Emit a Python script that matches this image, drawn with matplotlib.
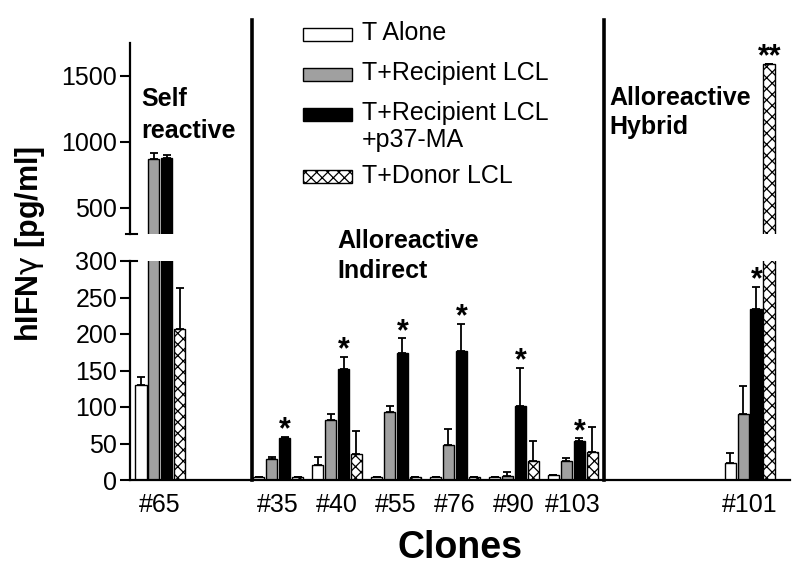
import matplotlib
matplotlib.use('Agg')
import numpy as np
import matplotlib.pyplot as plt
from matplotlib.patches import Rectangle
from matplotlib.lines import Line2D

plt.rcParams['font.family'] = ['Liberation Sans', 'DejaVu Sans']

# data
clones = ['#65', '#35', '#40', '#55', '#76', '#90', '#103', '#101']
slots = [0, 2, 3, 4, 5, 6, 7, 10]   # gaps between the groups

t_alone = [130, 4, 20, 4, 4, 4, 7, 23]
t_alone_err = [11, 0, 11, 0, 0, 0, 0, 14]
t_recip = [868, 29, 82, 93, 48, 5, 26, 90]
t_recip_err = [48, 3, 8, 9, 22, 6, 4, 39]
t_recip_p37 = [878, 58, 152, 174, 177, 102, 54, 234]
t_recip_p37_err = [20, 1, 17, 20, 37, 52, 3, 30]
t_donor = [207, 4, 35, 4, 4, 26, 39, 1588]
t_donor_err = [56, 0, 32, 0, 0, 27, 34, 6]

p37_marks = ['', '*', '*', '*', '*', '*', '*', '*']
donor_marks = ['', '', '', '', '', '', '', '**']

labels = ['T Alone', 'T+Recipient LCL', 'T+Recipient LCL\n+p37-MA', 'T+Donor LCL']

W, H = 800, 586
def fx(p):
    return p / W
def fy(p):
    return 1 - p / H

fig = plt.figure(figsize=(8, 5.86), dpi=100)
ax_lo = fig.add_axes([fx(130), fy(480), fx(660), (480 - 261) / H])
ax_up = fig.add_axes([fx(130), fy(234), fx(660), (234 - 43) / H])
ax_lo.patch.set_visible(False)
ax_up.patch.set_visible(False)

series = [
    (t_alone, t_alone_err, 'white', ''),
    (t_recip, t_recip_err, '#a0a0a0', ''),
    (t_recip_p37, t_recip_p37_err, 'black', ''),
    (t_donor, t_donor_err, 'white', 'xxx'),
]
x = np.array(slots, dtype=float)
bw = 0.2
step = 0.22
plt.rcParams['hatch.linewidth'] = 0.9

for ax in (ax_lo, ax_up):
    for k, (vals, errs, col, hat) in enumerate(series):
        xs = x + (k - 1.5) * step
        ax.bar(xs, vals, width=bw, color=col, edgecolor='black', linewidth=1.0, hatch=hat)
        ax.errorbar(xs, vals, yerr=[np.zeros(len(errs)), errs], fmt='none',
                    ecolor='black', elinewidth=1.3, capsize=3, capthick=1.3)
    ax.set_xlim(-0.51, 10.68)
    ax.spines['top'].set_visible(False)
    ax.spines['right'].set_visible(False)
    ax.spines['left'].set_linewidth(1.6)
    ax.spines['bottom'].set_linewidth(1.6)
    ax.tick_params(axis='y', labelsize=18, length=7.2, width=1.5, pad=2)

ax_lo.set_ylim(0, 300)
ax_lo.set_yticks([0, 50, 100, 150, 200, 250, 300])
ax_lo.set_xticks(x)
ax_lo.set_xticklabels(clones)
ax_lo.tick_params(axis='x', labelsize=18, length=0, pad=9)
ax_lo.set_xlabel('Clones', fontsize=27, fontweight='bold', labelpad=10)

ax_up.set_ylim(300, 1750)
ax_up.set_yticks([500, 1000, 1500])
ax_up.spines['bottom'].set_visible(False)
ax_up.set_xticks([])

# axis break marks
ax_up.plot([-0.006, 0.011], [0, 0], transform=ax_up.transAxes, color='black', lw=1.5, clip_on=False)
ax_lo.plot([0, 0.011], [1, 1], transform=ax_lo.transAxes, color='black', lw=1.5, clip_on=False)

# significance marks
def mark(vals, errs, marks, k):
    for i, m in enumerate(marks):
        if not m:
            continue
        top = vals[i] + errs[i]
        ax = ax_up if top > 300 else ax_lo
        ax.annotate(m, xy=(x[i] + (k - 1.5) * step, top), xytext=(0, -1),
                    textcoords='offset points', ha='center', va='baseline',
                    fontsize=22, fontweight='bold')
mark(t_recip_p37, t_recip_p37_err, p37_marks, 2)
mark(t_donor, t_donor_err, donor_marks, 3)

# group dividers, spanning both axes
fig.canvas.draw()
for xd in (1.56, 7.53):
    xp = ax_lo.transData.transform((xd, 0))[0]
    xf = fig.transFigure.inverted().transform((xp, 0))[0]
    fig.add_artist(Line2D([xf, xf], [fy(480), fy(20)], color='black', lw=2.6, zorder=5))

# group titles
fig.text(fx(141), fy(87), 'Self\nreactive', fontsize=18, fontweight='bold', va='top', ha='left',
         linespacing=1.4)
fig.text(fx(337), fy(229), 'Alloreactive\nIndirect', fontsize=18, fontweight='bold', va='top', ha='left',
         linespacing=1.3)
fig.text(fx(609), fy(86), 'Alloreactive\nHybrid', fontsize=18, fontweight='bold', va='top', ha='left',
         linespacing=1.25)

# legend
rows = [34, 74, 114, 177]
for (vals, errs, col, hat), lab, yr in zip(series, labels, rows):
    fig.patches.append(Rectangle((fx(303), fy(yr + 6.5)), fx(49), 13 / H, facecolor=col,
                                 edgecolor='black', linewidth=1.0, hatch=hat,
                                 transform=fig.transFigure, figure=fig))
    fig.text(fx(362), fy(yr - 13), lab, fontsize=18, va='top', ha='left', linespacing=1.18)

fig.text(fx(30), fy(244), r'hIFN$\mathrm{\gamma}$ [pg/ml]', fontsize=22, fontweight='bold',
         rotation=90, ha='center', va='center')

fig.savefig('out.png', dpi=100)
